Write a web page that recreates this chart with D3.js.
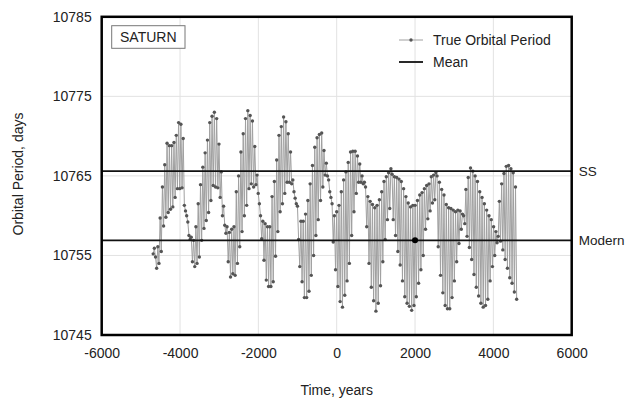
<!DOCTYPE html>
<html>
<head>
<meta charset="utf-8">
<script src="https://cdn.jsdelivr.net/npm/d3@7"></script>
<style>
  body { margin: 0; background: #ffffff; }
  svg { display: block; font-family: "Liberation Sans", Arial, sans-serif; }
</style>
</head>
<body>
<svg width="625" height="401"></svg>
<script>
// one value per Saturn revolution (days)
const firstOrbitYear = -4685;
const trueOrbitalPeriod = [
  10755.2, 10755.9, 10754.8, 10753.4, 10756.1, 10754.0, 10759.7, 10755.5, 10763.6, 10758.7,
  10766.4, 10759.8, 10769.1, 10760.4, 10768.8, 10760.8, 10768.8, 10761.1, 10769.2, 10762.3,
  10770.1, 10763.4, 10771.7, 10763.4, 10771.5, 10763.5, 10769.7, 10761.3, 10760.6, 10760.0,
  10759.2,
  10757.5, 10757.0, 10757.3, 10754.2, 10756.9, 10753.6, 10758.6, 10754.0, 10761.5, 10754.8,
  10763.9, 10756.9, 10766.1, 10758.4, 10767.9, 10759.4, 10769.5, 10760.4, 10771.7, 10761.9,
  10772.5, 10763.8, 10773.0, 10763.6, 10772.2, 10763.5, 10769.0, 10762.3, 10765.5, 10760.0,
  10761.2, 10758.8, 10757.8,
  10758.6, 10754.2, 10757.9, 10752.3, 10758.3, 10752.7, 10758.6, 10752.5, 10763.0, 10754.0,
  10765.0, 10756.1, 10768.0, 10758.0, 10770.3, 10760.0, 10772.2, 10761.3, 10773.2, 10763.4,
  10772.6, 10764.0, 10771.9, 10763.6, 10768.7, 10763.9, 10765.1, 10762.8, 10761.5,
  10760.0, 10757.1, 10759.3, 10754.4, 10759.0, 10751.9, 10758.6, 10751.1, 10758.6, 10751.1,
  10762.4, 10751.7, 10764.3, 10754.9, 10767.0, 10758.0, 10770.1, 10760.5, 10771.2, 10761.5,
  10772.4, 10762.8, 10771.8, 10764.2, 10770.3, 10764.2, 10768.0, 10764.0, 10764.5, 10763.0,
  10762.2, 10761.5, 10761.2, 10757.0,
  10753.6, 10759.3, 10751.7, 10759.3, 10749.7, 10760.2, 10749.7, 10761.9, 10750.5, 10764.0,
  10752.5, 10766.3, 10755.0, 10768.6, 10757.5, 10769.8, 10759.5, 10770.2, 10761.9, 10770.4,
  10763.6, 10768.2, 10765.1, 10766.6, 10765.0, 10764.5, 10763.0, 10762.3, 10761.5,
  10756.7, 10760.0, 10753.2, 10760.5, 10751.1, 10761.3, 10749.2, 10763.0, 10748.5, 10764.5,
  10750.0, 10765.5, 10751.8, 10766.7, 10754.0, 10768.0, 10757.5, 10768.1, 10760.5, 10768.1,
  10762.8, 10767.5, 10764.2, 10766.5, 10764.2, 10765.0, 10764.0, 10764.2, 10763.6,
  10758.6, 10762.4, 10754.0, 10761.8, 10751.0, 10761.4, 10749.3, 10761.0, 10748.0, 10761.3,
  10749.0, 10762.0, 10751.2, 10763.0, 10754.2, 10764.3, 10757.0, 10764.9, 10759.5, 10765.4,
  10760.9, 10765.9,
  10765.2, 10759.5, 10764.9, 10757.5, 10764.8, 10755.5, 10764.6, 10753.8, 10764.3, 10751.8,
  10763.4, 10749.8, 10762.4, 10749.0, 10761.6, 10748.6, 10761.1, 10748.1, 10761.3, 10748.7,
  10761.3, 10749.8, 10761.9, 10751.5, 10762.6, 10753.2, 10762.9, 10755.0, 10763.4, 10758.3,
  10763.8, 10759.6, 10764.0, 10760.6, 10764.9, 10761.6, 10765.1, 10762.0, 10765.4,
  10765.0, 10756.1, 10764.2, 10752.5, 10763.3, 10750.3, 10762.6, 10748.7, 10761.4, 10748.3,
  10761.0, 10748.3, 10760.9, 10749.7, 10760.7, 10751.8, 10760.5, 10754.2, 10760.7, 10756.5,
  10760.6, 10758.3, 10760.2,
  10760.0, 10759.0, 10763.3, 10757.4, 10764.8, 10756.0, 10766.0, 10754.5, 10765.6, 10752.6,
  10765.0, 10751.0, 10764.3, 10749.9, 10763.0, 10749.0, 10762.3, 10748.5, 10761.5, 10748.7,
  10760.7, 10749.5, 10760.0, 10751.8, 10759.5, 10753.6, 10758.6, 10755.0, 10758.0, 10756.6,
  10757.4, 10761.8,
  10756.8, 10764.0, 10755.7, 10765.3, 10754.5, 10766.2, 10753.4, 10766.3, 10752.2, 10765.9,
  10751.5, 10765.4, 10750.4, 10763.6, 10749.5
];

const meanNames = ["SS", "Modern"];
const meanValues = [10765.6, 10756.9];
const modernYear = 2000;
const xTicks = [-6000, -4000, -2000, 0, 2000, 4000, 6000];
const yTicks = [10745, 10755, 10765, 10775, 10785];
const legendNames = ["True Orbital Period", "Mean"];

var width = 625, height = 401;
const plot = { left: 101.7, right: 571.7, top: 16.8, bottom: 335 };

var svg = d3.select('svg');

svg.append('rect')
  .attr('width', width)
  .attr('height', height)
  .attr('fill', '#ffffff');

// each orbit starts when the previous one ends
var t = firstOrbitYear;
var points = trueOrbitalPeriod.map(p => {
  var d = { year: t, value: p };
  t += p / 365.25;
  return d;
});

var x = d3.scaleLinear()
  .domain([xTicks[0], xTicks[xTicks.length - 1]])
  .range([plot.left, plot.right]);

var y = d3.scaleLinear()
  .domain([yTicks[0], yTicks[yTicks.length - 1]])
  .range([plot.bottom, plot.top]);

// grid
svg.append('g')
  .selectAll('line')
  .data(xTicks.slice(1, -1))
  .join('line')
  .attr('x1', d => x(d)).attr('x2', d => x(d))
  .attr('y1', plot.top).attr('y2', plot.bottom)
  .attr('stroke', '#e2e2e2')
  .attr('stroke-width', 1);

svg.append('g')
  .selectAll('line')
  .data(yTicks.slice(1, -1))
  .join('line')
  .attr('x1', plot.left).attr('x2', plot.right)
  .attr('y1', d => y(d)).attr('y2', d => y(d))
  .attr('stroke', '#e2e2e2')
  .attr('stroke-width', 1);

// series
var line = d3.line()
  .x(d => x(d.year))
  .y(d => y(d.value));

svg.append('path')
  .datum(points)
  .attr('d', line)
  .attr('fill', 'none')
  .attr('stroke', '#a0a0a0')
  .attr('stroke-width', 1);

svg.append('g')
  .selectAll('circle')
  .data(points)
  .join('circle')
  .attr('cx', d => x(d.year))
  .attr('cy', d => y(d.value))
  .attr('r', 1.7)
  .attr('fill', '#555555');

// means
svg.append('g')
  .selectAll('line')
  .data(meanValues)
  .join('line')
  .attr('x1', plot.left).attr('x2', plot.right)
  .attr('y1', d => y(d)).attr('y2', d => y(d))
  .attr('stroke', '#111111')
  .attr('stroke-width', 1.8);

svg.append('g')
  .selectAll('text')
  .data(meanNames)
  .join('text')
  .attr('x', plot.right + 7)
  .attr('y', (d, i) => y(meanValues[i]))
  .attr('dy', '0.35em')
  .attr('font-size', 13.5)
  .attr('fill', '#222')
  .text(d => d);

svg.append('circle')
  .attr('cx', x(modernYear))
  .attr('cy', y(meanValues[1]))
  .attr('r', 3)
  .attr('fill', '#000');

// frame
svg.append('rect')
  .attr('x', plot.left)
  .attr('y', plot.top)
  .attr('width', plot.right - plot.left)
  .attr('height', plot.bottom - plot.top)
  .attr('fill', 'none')
  .attr('stroke', '#000')
  .attr('stroke-width', 2.5);

// axes
var xAxis = d3.axisBottom(x)
  .tickValues(xTicks)
  .tickSize(0)
  .tickPadding(13)
  .tickFormat(d => String(d));

var yAxis = d3.axisLeft(y)
  .tickValues(yTicks)
  .tickSize(0)
  .tickPadding(10)
  .tickFormat(d => String(d));

svg.append('g')
  .attr('transform', `translate(0,${plot.bottom})`)
  .call(xAxis)
  .call(g => g.select('.domain').remove())
  .selectAll('text')
  .attr('font-size', 14)
  .attr('font-family', '"Liberation Sans", Arial, sans-serif')
  .attr('fill', '#222');

svg.append('g')
  .attr('transform', `translate(${plot.left},0)`)
  .call(yAxis)
  .call(g => g.select('.domain').remove())
  .selectAll('text')
  .attr('font-size', 14)
  .attr('font-family', '"Liberation Sans", Arial, sans-serif')
  .attr('fill', '#222');

svg.append('text')
  .attr('x', (plot.left + plot.right) / 2)
  .attr('y', 390)
  .attr('dy', '0.35em')
  .attr('text-anchor', 'middle')
  .attr('font-size', 14)
  .attr('fill', '#222')
  .text('Time, years');

svg.append('text')
  .attr('transform', 'translate(18,174) rotate(-90)')
  .attr('dy', '0.35em')
  .attr('text-anchor', 'middle')
  .attr('font-size', 14)
  .attr('fill', '#222')
  .text('Orbital Period, days');

// planet tag
svg.append('rect')
  .attr('x', 111.7)
  .attr('y', 25.7)
  .attr('width', 73.3)
  .attr('height', 22.6)
  .attr('fill', '#fff')
  .attr('stroke', '#777')
  .attr('stroke-width', 1);

svg.append('text')
  .attr('x', 148.3)
  .attr('y', 37)
  .attr('dy', '0.35em')
  .attr('text-anchor', 'middle')
  .attr('font-size', 14)
  .attr('fill', '#222')
  .text('SATURN');

// legend
var legend = svg.append('g')
  .attr('transform', 'translate(399,40)');

var rows = legend.selectAll('g')
  .data(legendNames)
  .join('g')
  .attr('transform', (d, i) => `translate(0,${i * 22})`);

rows.append('line')
  .attr('x1', 0).attr('x2', 24)
  .attr('stroke', (d, i) => i === 0 ? '#a0a0a0' : '#111')
  .attr('stroke-width', (d, i) => i === 0 ? 1 : 1.8);

rows.filter((d, i) => i === 0)
  .append('circle')
  .attr('cx', 12)
  .attr('r', 1.7)
  .attr('fill', '#555');

rows.append('text')
  .attr('x', 34)
  .attr('dy', '0.35em')
  .attr('font-size', 14)
  .attr('fill', '#222')
  .text(d => d);
</script>
</body>
</html>
